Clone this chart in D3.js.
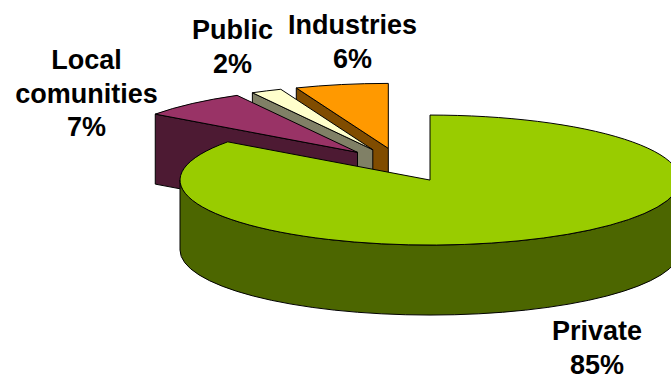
<!DOCTYPE html>
<html>
<head>
<meta charset="utf-8">
<script src="https://cdn.jsdelivr.net/npm/d3@7/dist/d3.min.js"></script>
<style>
  html, body { margin: 0; padding: 0; background: #fff; }
  svg { display: block; }
  text { font-family: "Liberation Sans", Arial, sans-serif; font-weight: bold; font-size: 27px; fill: #000; }
</style>
</head>
<body>
<svg id="chart" width="671" height="374"></svg>
<script>
// ---- data ----
const categories = ["Private", "Local comunities", "Public", "Industries"];
const values = [85, 7, 2, 6];
const labelLines = [["Private", "85%"], ["Local", "comunities", "7%"], ["Public", "2%"], ["Industries", "6%"]];
const topColors = ["#99CC00", "#993366", "#FFFFCC", "#FF9900"];
const sideColors = ["#4C6600", "#4D1A33", "#808066", "#804C00"];

// ---- layout ----
const W = 671, H = 374;
const cx = 400.5, cy = 165, rx = 250, ry = 65, depth = 70, explode = 0.26;
const labelAnchors = [[597, 340], [86.5, 69], [232.5, 39], [352.5, 34]];
const lineGap = 33.5;

const svg = d3.select("#chart");
const pie = d3.pie().sort(null).value(d => d).startAngle(0).endAngle(2 * Math.PI);
const arcs = pie(values);

// projection: angle measured clockwise from 12 o'clock
const px = d3.scaleLinear().domain([-1, 1]).range([-rx, rx]);
const py = d3.scaleLinear().domain([-1, 1]).range([ry, -ry]);

arcs.forEach(a => {
  const mid = (a.startAngle + a.endAngle) / 2;
  a.ox = cx + explode * px(Math.sin(mid));
  a.oy = cy + explode * py(Math.cos(mid));
});

function pt(a, th, dz = 0) {
  return [a.ox + px(Math.sin(th)), a.oy + py(Math.cos(th)) + dz];
}

function topPath(a) {
  const p0 = pt(a, a.startAngle), p1 = pt(a, a.endAngle);
  const large = (a.endAngle - a.startAngle) > Math.PI ? 1 : 0;
  return `M${a.ox},${a.oy}L${p0[0]},${p0[1]}A${rx},${ry} 0 ${large} 1 ${p1[0]},${p1[1]}Z`;
}

function radialSide(a, th) {
  const p = pt(a, th), pb = pt(a, th, depth);
  return `M${a.ox},${a.oy}L${p[0]},${p[1]}L${pb[0]},${pb[1]}L${a.ox},${a.oy + depth}Z`;
}

function outerWall(a, t0, t1) {
  // visible front part of the rim (angles between PI/2 and 3PI/2)
  const s = Math.max(t0, Math.PI / 2), e = Math.min(t1, 3 * Math.PI / 2);
  if (e <= s) return null;
  const p0 = pt(a, s), p1 = pt(a, e), p1b = pt(a, e, depth), p0b = pt(a, s, depth);
  const large = (e - s) > Math.PI ? 1 : 0;
  return `M${p0[0]},${p0[1]}A${rx},${ry} 0 ${large} 1 ${p1[0]},${p1[1]}` +
         `L${p1b[0]},${p1b[1]}A${rx},${ry} 0 ${large} 0 ${p0b[0]},${p0b[1]}Z`;
}

const g = svg.append("g").attr("stroke", "#000").attr("stroke-width", 1).attr("stroke-linejoin", "round");

// paint back slices first (from the top/right towards the left), then the big front slice
const order = [3, 2, 1, 0];
order.forEach(i => {
  const a = arcs[i];
  const wall = outerWall(a, a.startAngle, a.endAngle);
  if (wall) g.append("path").attr("d", wall).attr("fill", sideColors[i]);
  // radial faces are drawn only when their outward normal points to the viewer
  const nStart = a.startAngle - Math.PI / 2;
  if (-Math.cos(nStart) > 0.001) g.append("path").attr("d", radialSide(a, a.startAngle)).attr("fill", sideColors[i]);
  const nEnd = a.endAngle + Math.PI / 2;
  if (-Math.cos(nEnd) > 0.001) g.append("path").attr("d", radialSide(a, a.endAngle)).attr("fill", sideColors[i]);
  g.append("path").attr("d", topPath(a)).attr("fill", topColors[i]);
});

// labels
const lg = svg.append("g").attr("text-anchor", "middle");
labelLines.forEach((lines, i) => {
  const [x, y] = labelAnchors[i];
  lines.forEach((t, k) => {
    lg.append("text").attr("x", x).attr("y", y + k * lineGap).text(t);
  });
});
</script>
</body>
</html>
